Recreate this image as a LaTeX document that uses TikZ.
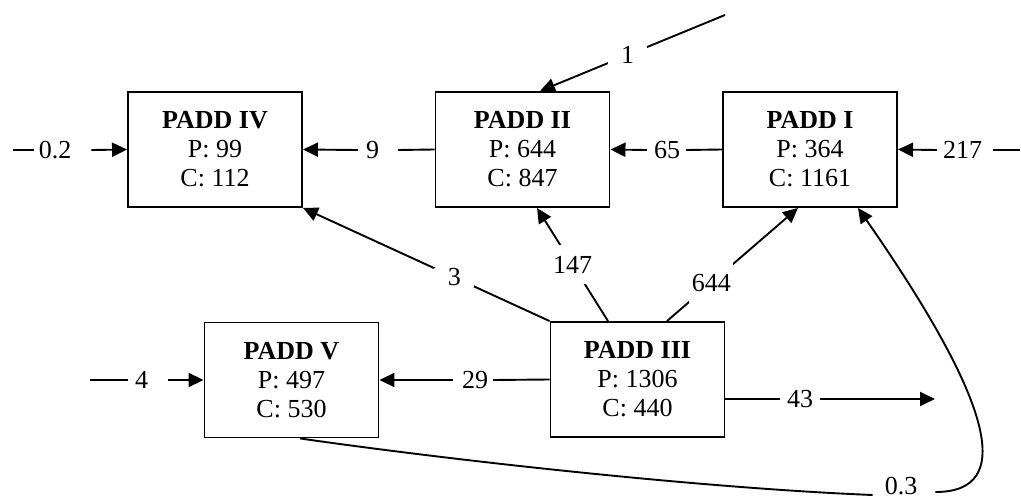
\documentclass[tikz,border=0pt]{standalone}
\usepackage{fontspec}
\setmainfont{Liberation Serif}
\usetikzlibrary{arrows.meta,calc}
\begin{document}
\begin{tikzpicture}[x=1pt,y=-1pt,
  every node/.style={font=\fontsize{26}{29}\selectfont},
  box/.style={draw, line width=1.9pt, minimum width=174pt, minimum height=115pt, align=center, inner sep=0pt},
  lab/.style={fill=white, inner sep=0pt},
  conn/.style={line width=1.9pt},
  arr/.style={conn, -{Triangle[length=15pt,width=14pt]}}]
\useasboundingbox (0,0) rectangle (1021,500);

% boxes
\node[box] (IV)  at (215,149.5)   {{\bfseries PADD IV}\\P: 99\\C: 112};
\node[box] (II)  at (522.5,149.5) {{\bfseries PADD II}\\P: 644\\C: 847};
\node[box] (I)   at (810,149.5)   {{\bfseries PADD I}\\P: 364\\C: 1161};
\node[box] (V)   at (291.5,380)   {{\bfseries PADD V}\\P: 497\\C: 530};
\node[box] (III) at (637.5,379.5) {{\bfseries PADD III}\\P: 1306\\C: 440};

% free ends
\coordinate (s02) at (13,150);
\coordinate (s217) at (1020,150);
\coordinate (s4) at (90,380);
\coordinate (s1) at (725,15);
\coordinate (e43) at (935,399);

% horizontal labels
\node[lab] (l02)  at (55,150)    {0.2};
\node[lab] (l9)   at (372.5,150) {9};
\node[lab] (l65)  at (667,150)   {65};
\node[lab] (l217) at (962.5,150) {217};
\node[lab] (l4)   at (141.5,380) {4};
\node[lab] (l29)  at (475,380)   {29};
\node[lab] (l43)  at (800,399)   {43};
\node[lab] (l03)  at (901,486)   {0.3};

% horizontal connectors
\draw[conn] (s02) -- ([xshift=-5pt]l02.west);
\draw[arr] ([xshift=20pt]l02.east) -- (IV.west);
\draw[conn] (II.west) -- ([xshift=19pt]l9.east);
\draw[arr] ([xshift=-8pt]l9.west) -- (IV.east);
\draw[conn] (I.west) -- ([xshift=6pt]l65.east);
\draw[arr] ([xshift=-7pt]l65.west) -- (II.east);
\draw[conn] (s217) -- ([xshift=11pt]l217.east);
\draw[arr] ([xshift=-6pt]l217.west) -- (I.east);
\draw[conn] (s4) -- ([xshift=-7pt]l4.west);
\draw[arr] ([xshift=20pt]l4.east) -- (V.west);
\draw[conn] (III.west) -- ([xshift=5pt]l29.east);
\draw[arr] ([xshift=-9pt]l29.west) -- (V.east);
\draw[conn] (III.east |- l43) -- ([xshift=-7pt]l43.west);
\draw[arr] ([xshift=7pt]l43.east) -- (e43);

% diagonal connectors
\draw[arr] (s1) -- node[lab, pos=0.527, inner xsep=13pt, inner ysep=1pt] {1} ($(II.north)+(17.5,0)$);
\draw[arr] (III.north west) -- node[lab, pos=0.386, inner xsep=13.5pt, inner ysep=1pt] {3} (IV.south east);
\draw[arr] ($(III.north)+(-29.5,0)$) -- node[lab, pos=0.5, inner xsep=2pt, inner ysep=11pt] {147} ($(II.south)+(14.5,0)$);
\draw[arr] ($(III.north)+(29.5,0)$) -- node[lab, pos=0.338, inner xsep=2.5pt, inner ysep=11.7pt] {644} ($(I.south)+(-12,0)$);

% curved connector 0.3
\draw[conn] ($(V.south)+(8.5,0)$) .. controls (450,460) and (700,488) .. ([xshift=-12pt,yshift=-9pt]l03.west);
\draw[arr] ([xshift=18pt,yshift=-6pt]l03.east) .. controls (1015,492) and (995,405) .. ($(I.south)+(48,0)$);
\end{tikzpicture}
\end{document}
